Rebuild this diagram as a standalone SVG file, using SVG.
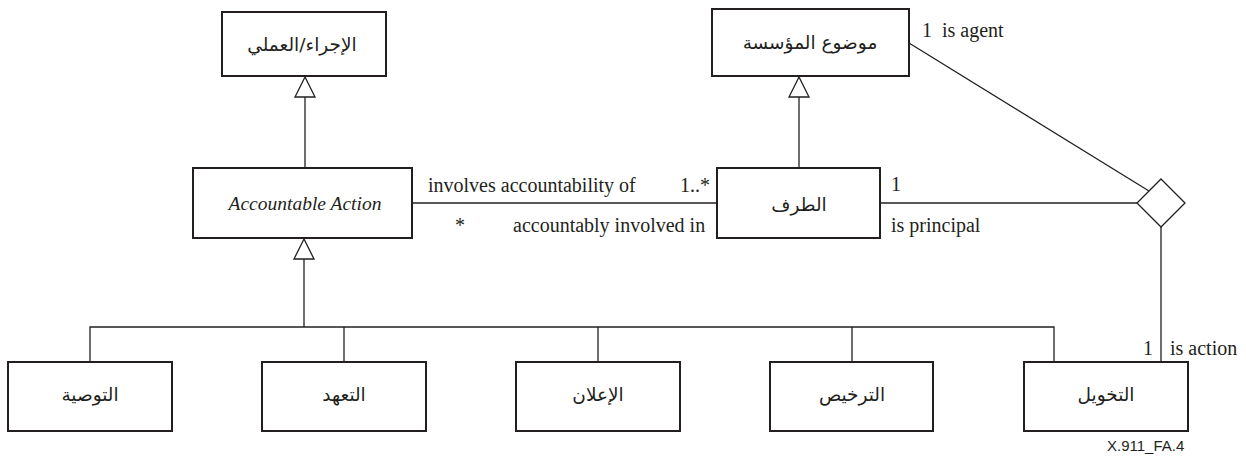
<svg xmlns="http://www.w3.org/2000/svg" width="1246" height="459" viewBox="0 0 1246 459">
<defs>
<style>
.box{fill:#fff;stroke:#231f20;stroke-width:2}
.ln{fill:none;stroke:#231f20;stroke-width:1.3}
.tri{fill:#fff;stroke:#231f20;stroke-width:1.3}
.ar{font-family:'DejaVu Sans','Noto Sans',sans-serif;font-size:18.5px;fill:#231f20;text-anchor:middle}
.lb{font-family:'Liberation Serif','Times New Roman',serif;font-size:20px;fill:#231f20}
.it{font-family:'Liberation Serif','Times New Roman',serif;font-size:19.5px;font-style:italic;fill:#231f20;text-anchor:middle}
.id{font-family:'Liberation Sans',Arial,sans-serif;font-size:15px;fill:#231f20}
</style>
</defs>
<g id="connectors">
<line class="ln" x1="305" y1="97" x2="305" y2="168"/>
<polygon class="tri" points="305,77 295,97 315,97"/>
<line class="ln" x1="799" y1="97" x2="799" y2="168"/>
<polygon class="tri" points="799,77 789,97 809,97"/>
<line class="ln" x1="412" y1="203" x2="717" y2="203"/>
<line class="ln" x1="880" y1="203" x2="1137" y2="203"/>
<line class="ln" x1="909" y1="43" x2="1149" y2="191"/>
<line class="ln" x1="1161" y1="227" x2="1161" y2="362"/>
<polygon class="tri" points="1161,179 1185,203 1161,227 1137,203"/>
<polygon class="tri" points="304,239 294,259 314,259"/>
<line class="ln" x1="304" y1="259" x2="304" y2="327"/>
<polyline class="ln" points="90,362 90,327 1054,327 1054,362"/>
<line class="ln" x1="344" y1="327" x2="344" y2="362"/>
<line class="ln" x1="598" y1="327" x2="598" y2="362"/>
<line class="ln" x1="852" y1="327" x2="852" y2="362"/>
<text class="lb" x="428" y="192">involves accountability of</text>
<text class="lb" x="680" y="192">1..*</text>
<text class="lb" x="455" y="232">*</text>
<text class="lb" x="513" y="232">accountably involved in</text>
<text class="lb" x="891" y="191">1</text>
<text class="lb" x="891" y="232">is principal</text>
<text class="lb" x="922" y="37">1</text>
<text class="lb" x="942" y="37">is agent</text>
<text class="lb" x="1143" y="355">1</text>
<text class="lb" x="1170" y="355">is action</text>
</g>
<g id="node-action">
<rect class="box" x="222" y="12" width="164" height="64"/>
<text class="ar" x="302" y="51">الإجراء/العملي</text>
</g>
<g id="node-enterprise-object">
<rect class="box" x="712" y="9" width="197" height="67"/>
<text class="ar" x="810" y="49">موضوع المؤسسة</text>
</g>
<g id="node-accountable-action">
<rect class="box" x="193" y="168" width="219" height="70"/>
<text class="it" x="305" y="210">Accountable Action</text>
</g>
<g id="node-party">
<rect class="box" x="717" y="168" width="163" height="70"/>
<text class="ar" x="799" y="211">الطرف</text>
</g>
<g id="node-recommendation">
<rect class="box" x="8" y="362" width="164" height="69"/>
<text class="ar" x="90" y="401">التوصية</text>
</g>
<g id="node-commitment">
<rect class="box" x="262" y="362" width="164" height="69"/>
<text class="ar" x="344" y="401">التعهد</text>
</g>
<g id="node-declaration">
<rect class="box" x="516" y="362" width="164" height="69"/>
<text class="ar" x="598" y="401">الإعلان</text>
</g>
<g id="node-authorization">
<rect class="box" x="770" y="362" width="163" height="69"/>
<text class="ar" x="852" y="401">الترخيص</text>
</g>
<g id="node-delegation">
<rect class="box" x="1024" y="362" width="164" height="69"/>
<text class="ar" x="1106" y="401">التخويل</text>
</g>
<text class="id" x="1107" y="451">X.911_FA.4</text>
</svg>
